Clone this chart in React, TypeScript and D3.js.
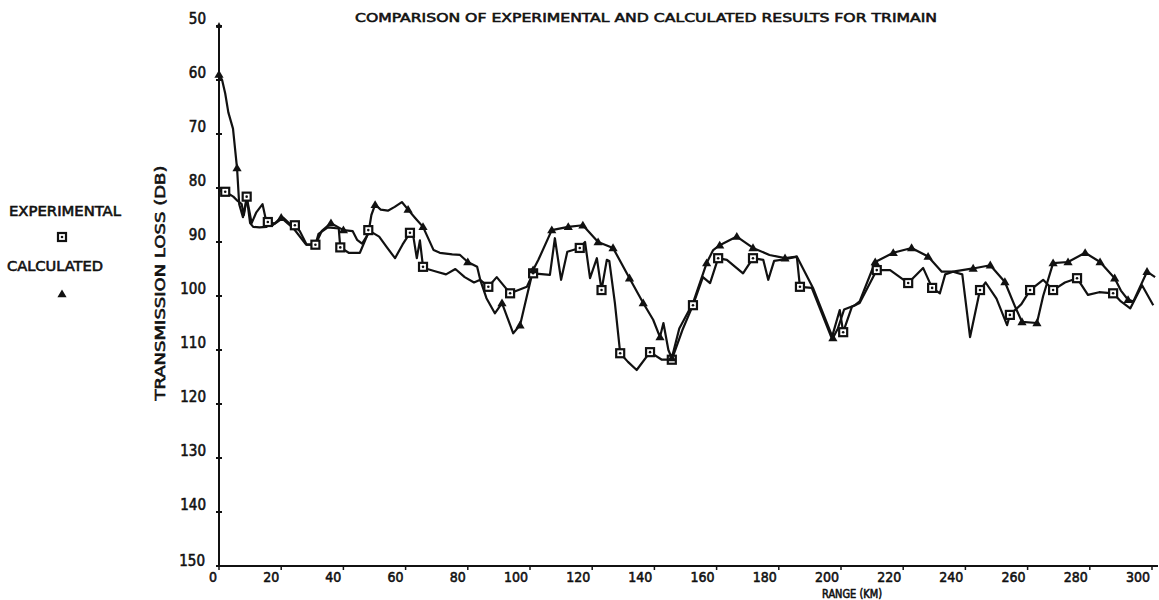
import React from "react";
import * as d3 from "d3";

const title = "COMPARISON OF EXPERIMENTAL AND CALCULATED RESULTS FOR TRIMAIN";
const yTitle = "TRANSMISSION LOSS (DB)";
const xTitle = "RANGE (KM)";
const legendLabels = ["EXPERIMENTAL", "CALCULATED"];

const xTicks = [0, 20, 40, 60, 80, 100, 120, 140, 160, 180, 200, 220, 240, 260, 280, 300];
const yTicks = [50, 60, 70, 80, 90, 100, 110, 120, 130, 140, 150];

// Experimental (km, dB)
const experimental: [number, number][] = [
  [0, 80.5], [2, 80.7], [4.6, 81.6], [6, 82.4], [7.3, 83], [8, 85], [8.9, 81.6], [10, 86.5], [11, 87.2],
  [13, 87.3], [15.3, 87.2], [15.7, 86.3], [18, 86.6], [20.7, 85.5], [22.5, 86.5], [24.4, 86.9], [26, 88],
  [28.2, 90.5], [31, 90.5], [32, 88.5], [35, 87.3], [38.5, 87.5], [39, 91], [41.7, 92], [45.3, 92],
  [47.5, 89], [48, 87.8], [51.5, 89], [54, 91], [56.6, 93], [59, 90.5], [61.4, 88.3], [62.5, 89],
  [63.6, 93], [64.6, 89.7], [65.6, 94.6], [67, 95], [70, 95.5], [73, 96], [76, 95], [79, 96.5],
  [82, 97.5], [84, 97], [86.6, 98.3], [89.3, 96.5], [93.6, 99.5], [99, 98.3], [101, 95.8], [106.4, 96.1],
  [108, 89.3], [110, 97], [112, 91.8], [116, 91.1], [117.7, 90], [119.3, 96.7], [121.5, 93], [123, 98.9],
  [124.7, 93.3], [125.5, 93.5], [127.3, 101.3], [129, 110.6], [131.5, 112.2], [134.3, 113.7],
  [138.6, 110.4], [142.4, 111.8], [145.6, 111.8], [149, 106.3], [152.4, 101.7], [155.6, 96.5],
  [157.9, 97.6], [160.5, 93], [163.3, 93.3], [168.5, 95.8], [171.7, 93], [175, 93.3], [176.6, 97],
  [178.5, 93.5], [182, 93.2], [185.8, 92.7], [186.8, 98.3], [190.6, 98.5], [197, 107.8], [199.6, 102.6],
  [200.7, 106.7], [203.5, 102], [206, 101.3], [211.5, 95.2], [215.8, 95.2], [221.6, 97.6], [226.4, 94.8],
  [229.3, 98.5], [231.8, 99.5], [233.5, 96], [236, 95.5], [239, 96], [241.5, 107.6], [244.7, 98.9],
  [246.5, 97.5], [250, 100.5], [253.4, 105.4], [254.3, 103.5], [258, 101.5], [260.8, 98.9], [265, 97],
  [268.2, 98.9], [272, 97.5], [275.9, 96.7], [279.4, 99.8], [283, 99.3], [287.5, 99.5], [290, 101],
  [293, 102.3], [296.8, 98], [300.4, 101.7],
];

// Calculated (km, dB)
const calculated: [number, number][] = [
  [0, 59], [1, 60], [2, 62.5], [3, 66], [4.5, 69], [5.8, 76.3], [6.5, 83], [7.7, 85.4], [9, 82],
  [10.5, 86.5], [12, 84.5], [14, 83], [15.5, 87], [17, 87], [20, 85.5], [22, 86.5], [24, 87.5],
  [28, 90.5], [31, 90.5], [33, 88], [36, 86.5], [40, 87.8], [43, 88], [44.4, 89.6], [46, 90.3],
  [48, 88.5], [49, 85], [50.2, 83.1], [52, 84], [54.3, 84.2], [56.5, 83.5], [58.8, 82.6], [60.8, 84],
  [63, 85.5], [65.6, 87.2], [69, 91.5], [71, 92], [75, 92.3], [77.5, 92.4], [80, 93.7], [83, 94.6],
  [84, 97], [86, 100.4], [88.7, 103.2], [91, 101.3], [94.6, 106.9], [96.8, 105.4], [99, 100],
  [101, 95.2], [102.7, 93.3], [107, 87.8], [112.3, 87.2], [117, 86.9], [121.9, 90], [126.7, 91.1],
  [132, 96.7], [136.4, 101.3], [139.6, 104.4], [141.8, 107.6], [142.9, 105], [144.5, 110],
  [145.6, 111.5], [148, 106], [152.4, 101.3], [156.8, 93.9], [158.9, 91.5], [161, 90.6], [166.5, 89],
  [171.7, 91.1], [177, 92.4], [182, 93], [185.8, 92.7], [191, 98.5], [197.4, 107.8], [199, 106],
  [201, 102.5], [204.5, 101.7], [206, 101], [211, 93.7], [216.8, 92], [222.7, 91.1], [228, 92.7],
  [232.4, 95.5], [236, 95.5], [242.5, 94.9], [248, 94.3], [252.7, 97.4], [256, 102], [258.2, 104.8],
  [263, 105], [265, 100], [268.2, 93.9], [273, 93.7], [278.5, 92], [283.3, 93.7], [288, 96.7],
  [290, 99], [292.3, 100.7], [294, 101], [298.4, 95.5], [301, 96.5],
];

const expMarkerKm = [2, 8.9, 15.7, 24.4, 31, 39, 48, 61.4, 65.6, 86.6, 93.6, 101, 116, 123, 129, 138.6,
  145.6, 152.4, 160.5, 171.7, 186.8, 200.7, 211.5, 221.6, 229.3, 244.7, 254.3, 260.8, 268.2, 275.9, 287.5];
const calcMarkerKm = [0, 5.8, 20, 36, 40, 50.2, 60.8, 65.6, 80, 91, 96.8, 101, 107, 112.3, 117, 121.9,
  126.7, 132, 136.4, 141.8, 145.6, 156.8, 161, 166.5, 171.7, 182, 197.4, 211, 216.8, 222.7, 228, 242.5,
  248, 252.7, 258.2, 263, 268.2, 273, 278.5, 283.3, 288, 292.3, 298.4];

const W = 1159;
const H = 600;
const INK = "#111";
const FONT = "'DejaVu Sans Condensed', 'DejaVu Sans', sans-serif";

const x = d3.scaleLinear().domain([0, 300]).range([219, 1152]);
const y = d3.scaleLinear().domain([50, 150]).range([26, 566]);

function pick(data: [number, number][], kms: number[]) {
  return kms
    .map((k) => data.find((d) => Math.abs(d[0] - k) < 1e-6))
    .filter((d): d is [number, number] => !!d);
}

function Square({ cx, cy }: { cx: number; cy: number }) {
  return (
    <g>
      <rect x={cx - 4} y={cy - 4} width={8} height={8} fill="#fff" stroke={INK} strokeWidth={2.2} />
      <circle cx={cx} cy={cy} r={1.3} fill={INK} />
    </g>
  );
}

function Tri({ cx, cy }: { cx: number; cy: number }) {
  const s = 4.6;
  return <path d={`M${cx},${cy - s}L${cx + s},${cy + s * 0.7}L${cx - s},${cy + s * 0.7}Z`} fill={INK} />;
}

const txt = { fill: INK, stroke: INK, strokeWidth: 0.55 } as const;

export default function App() {
  const lineGen = d3
    .line<[number, number]>()
    .x((d) => x(d[0]))
    .y((d) => y(d[1]))
    .curve(d3.curveLinear);
  const expMarks = pick(experimental, expMarkerKm);
  const calcMarks = pick(calculated, calcMarkerKm);

  return (
    <svg
      width={W}
      height={H}
      style={{ position: "absolute", left: 0, top: 0, background: "#fff" }}
      fontFamily={FONT}
    >
      <rect x={0} y={0} width={W} height={H} fill="#fff" />
      {/* title */}
      <text x={355} y={22} fontSize={13} {...txt} textLength={582} lengthAdjust="spacingAndGlyphs">
        {title}
      </text>

      {/* legend */}
      <text x={9} y={216} fontSize={14} {...txt} textLength={112} lengthAdjust="spacingAndGlyphs">
        {legendLabels[0]}
      </text>
      <Square cx={62} cy={237} />
      <text x={7} y={271} fontSize={14} {...txt} textLength={96} lengthAdjust="spacingAndGlyphs">
        {legendLabels[1]}
      </text>
      <Tri cx={62} cy={294} />

      {/* y axis title */}
      <text
        transform={`translate(165,283) rotate(-90)`}
        textAnchor="middle"
        fontSize={14}
        {...txt}
        textLength={235}
        lengthAdjust="spacingAndGlyphs"
      >
        {yTitle}
      </text>

      {/* axes */}
      <line x1={x(0)} x2={x(0)} y1={y(50)} y2={y(150)} stroke={INK} strokeWidth={2} />
      <line x1={x(0)} x2={1158} y1={y(150)} y2={y(150)} stroke={INK} strokeWidth={2} />
      <path d={`M${x(0)},${y(50) - 4}L${x(0) + 3},${y(50) + 2}L${x(0) - 3},${y(50) + 2}Z`} fill={INK} />
      {yTicks.map((t) => (
        <g key={t}>
          <line x1={x(0) - 3} x2={x(0) + 3} y1={y(t)} y2={y(t)} stroke={INK} strokeWidth={2} />
          <text
            x={t === 150 ? 205 : 206}
            y={y(t) - (t === 150 ? 0 : 2)}
            textAnchor="end"
            fontSize={15}
            {...txt}
          >
            {t}
          </text>
        </g>
      ))}
      {xTicks.map((t) => (
        <g key={t}>
          <line x1={x(t)} x2={x(t)} y1={y(150)} y2={y(150) + 4} stroke={INK} strokeWidth={1.5} />
          <text x={x(t) - 2} y={y(150) + 16} textAnchor="end" fontSize={14} {...txt}>
            {t}
          </text>
        </g>
      ))}
      <text x={852} y={598} textAnchor="middle" fontSize={11.5} {...txt} textLength={60} lengthAdjust="spacingAndGlyphs">
        {xTitle}
      </text>

      {/* series */}
      <path d={lineGen(experimental) || ""} fill="none" stroke={INK} strokeWidth={2.2} strokeLinejoin="round" />
      <path d={lineGen(calculated) || ""} fill="none" stroke={INK} strokeWidth={2.2} strokeLinejoin="round" />
      {expMarks.map((d, i) => (
        <Square key={"e" + i} cx={x(d[0])} cy={y(d[1])} />
      ))}
      {calcMarks.map((d, i) => (
        <Tri key={"c" + i} cx={x(d[0])} cy={y(d[1])} />
      ))}
    </svg>
  );
}
